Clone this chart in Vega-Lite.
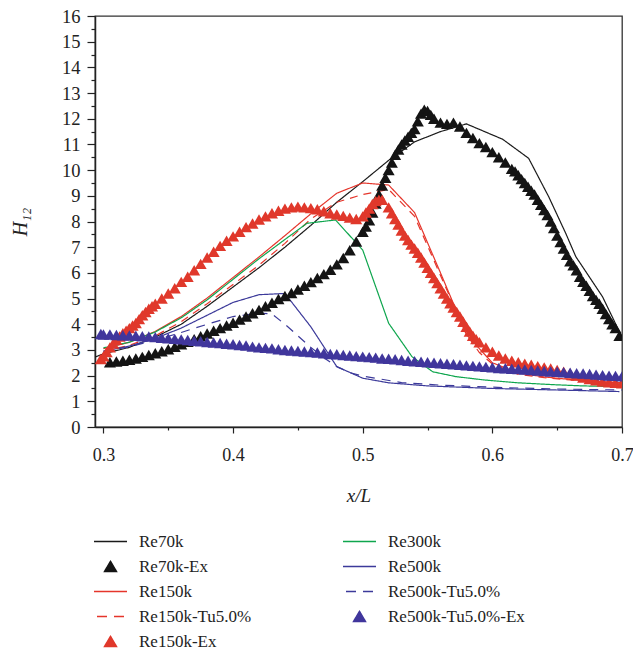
{
  "$schema": "https://vega.github.io/schema/vega-lite/v6.json",
  "width": 527,
  "height": 411,
  "autosize": {"type": "none"},
  "padding": {"left": 95, "top": 16, "right": 11, "bottom": 225},
  "background": "white",
  "config": {
    "view": {"stroke": "#333", "strokeWidth": 1.3},
    "font": "Liberation Serif"
  },
  "datasets": {
    "lines": [
      {"s":"Re70k","x":0.2935,"y":2.72},{"s":"Re70k","x":0.30,"y":2.85},{"s":"Re70k","x":0.32,"y":3.1},{"s":"Re70k","x":0.34,"y":3.5},{"s":"Re70k","x":0.36,"y":4.0},{"s":"Re70k","x":0.38,"y":4.7},{"s":"Re70k","x":0.40,"y":5.45},{"s":"Re70k","x":0.42,"y":6.2},{"s":"Re70k","x":0.44,"y":7.0},{"s":"Re70k","x":0.46,"y":7.85},{"s":"Re70k","x":0.48,"y":8.75},{"s":"Re70k","x":0.50,"y":9.55},{"s":"Re70k","x":0.52,"y":10.38},{"s":"Re70k","x":0.54,"y":11.1},{"s":"Re70k","x":0.56,"y":11.5},{"s":"Re70k","x":0.58,"y":11.8},{"s":"Re70k","x":0.608,"y":11.2},{"s":"Re70k","x":0.628,"y":10.46},{"s":"Re70k","x":0.6435,"y":8.96},{"s":"Re70k","x":0.6566,"y":7.54},{"s":"Re70k","x":0.6644,"y":6.63},{"s":"Re70k","x":0.685,"y":5.07},{"s":"Re70k","x":0.70,"y":3.5},
      {"s":"Re150k","x":0.30,"y":3.05},{"s":"Re150k","x":0.32,"y":3.3},{"s":"Re150k","x":0.34,"y":3.72},{"s":"Re150k","x":0.36,"y":4.3},{"s":"Re150k","x":0.38,"y":5.02},{"s":"Re150k","x":0.40,"y":5.82},{"s":"Re150k","x":0.42,"y":6.62},{"s":"Re150k","x":0.44,"y":7.45},{"s":"Re150k","x":0.46,"y":8.3},{"s":"Re150k","x":0.48,"y":9.1},{"s":"Re150k","x":0.50,"y":9.5},{"s":"Re150k","x":0.52,"y":9.42},{"s":"Re150k","x":0.54,"y":8.35},{"s":"Re150k","x":0.56,"y":6.0},{"s":"Re150k","x":0.58,"y":3.6},{"s":"Re150k","x":0.60,"y":2.5},{"s":"Re150k","x":0.62,"y":2.1},{"s":"Re150k","x":0.64,"y":1.95},{"s":"Re150k","x":0.66,"y":1.85},{"s":"Re150k","x":0.68,"y":1.78},{"s":"Re150k","x":0.70,"y":1.72},
      {"s":"Re150k-Tu5.0%","x":0.30,"y":2.95},{"s":"Re150k-Tu5.0%","x":0.32,"y":3.18},{"s":"Re150k-Tu5.0%","x":0.34,"y":3.55},{"s":"Re150k-Tu5.0%","x":0.36,"y":4.1},{"s":"Re150k-Tu5.0%","x":0.38,"y":4.8},{"s":"Re150k-Tu5.0%","x":0.40,"y":5.55},{"s":"Re150k-Tu5.0%","x":0.42,"y":6.3},{"s":"Re150k-Tu5.0%","x":0.44,"y":7.15},{"s":"Re150k-Tu5.0%","x":0.46,"y":8.1},{"s":"Re150k-Tu5.0%","x":0.48,"y":8.75},{"s":"Re150k-Tu5.0%","x":0.50,"y":9.05},{"s":"Re150k-Tu5.0%","x":0.52,"y":9.25},{"s":"Re150k-Tu5.0%","x":0.54,"y":8.2},{"s":"Re150k-Tu5.0%","x":0.56,"y":5.9},{"s":"Re150k-Tu5.0%","x":0.58,"y":3.6},{"s":"Re150k-Tu5.0%","x":0.59,"y":2.9},{"s":"Re150k-Tu5.0%","x":0.60,"y":2.45},{"s":"Re150k-Tu5.0%","x":0.62,"y":2.05},{"s":"Re150k-Tu5.0%","x":0.64,"y":1.92},{"s":"Re150k-Tu5.0%","x":0.66,"y":1.83},{"s":"Re150k-Tu5.0%","x":0.68,"y":1.77},{"s":"Re150k-Tu5.0%","x":0.70,"y":1.72},
      {"s":"Re300k","x":0.30,"y":3.08},{"s":"Re300k","x":0.32,"y":3.3},{"s":"Re300k","x":0.34,"y":3.7},{"s":"Re300k","x":0.36,"y":4.25},{"s":"Re300k","x":0.38,"y":4.95},{"s":"Re300k","x":0.40,"y":5.75},{"s":"Re300k","x":0.42,"y":6.55},{"s":"Re300k","x":0.44,"y":7.3},{"s":"Re300k","x":0.457,"y":7.93},{"s":"Re300k","x":0.479,"y":8.06},{"s":"Re300k","x":0.50,"y":6.89},{"s":"Re300k","x":0.52,"y":4.04},{"s":"Re300k","x":0.538,"y":2.74},{"s":"Re300k","x":0.554,"y":2.15},{"s":"Re300k","x":0.572,"y":1.96},{"s":"Re300k","x":0.594,"y":1.83},{"s":"Re300k","x":0.62,"y":1.72},{"s":"Re300k","x":0.646,"y":1.65},{"s":"Re300k","x":0.67,"y":1.6},{"s":"Re300k","x":0.698,"y":1.57},
      {"s":"Re500k","x":0.30,"y":2.95},{"s":"Re500k","x":0.32,"y":3.15},{"s":"Re500k","x":0.34,"y":3.45},{"s":"Re500k","x":0.36,"y":3.85},{"s":"Re500k","x":0.38,"y":4.35},{"s":"Re500k","x":0.40,"y":4.85},{"s":"Re500k","x":0.42,"y":5.15},{"s":"Re500k","x":0.44,"y":5.2},{"s":"Re500k","x":0.46,"y":3.9},{"s":"Re500k","x":0.48,"y":2.35},{"s":"Re500k","x":0.50,"y":1.9},{"s":"Re500k","x":0.52,"y":1.72},{"s":"Re500k","x":0.55,"y":1.6},{"s":"Re500k","x":0.60,"y":1.5},{"s":"Re500k","x":0.65,"y":1.44},{"s":"Re500k","x":0.698,"y":1.38},
      {"s":"Re500k-Tu5.0%","x":0.30,"y":2.95},{"s":"Re500k-Tu5.0%","x":0.32,"y":3.12},{"s":"Re500k-Tu5.0%","x":0.34,"y":3.38},{"s":"Re500k-Tu5.0%","x":0.36,"y":3.68},{"s":"Re500k-Tu5.0%","x":0.38,"y":4.0},{"s":"Re500k-Tu5.0%","x":0.40,"y":4.3},{"s":"Re500k-Tu5.0%","x":0.42,"y":4.43},{"s":"Re500k-Tu5.0%","x":0.43,"y":4.4},{"s":"Re500k-Tu5.0%","x":0.44,"y":4.0},{"s":"Re500k-Tu5.0%","x":0.45,"y":3.55},{"s":"Re500k-Tu5.0%","x":0.46,"y":3.1},{"s":"Re500k-Tu5.0%","x":0.47,"y":2.7},{"s":"Re500k-Tu5.0%","x":0.48,"y":2.35},{"s":"Re500k-Tu5.0%","x":0.49,"y":2.12},{"s":"Re500k-Tu5.0%","x":0.50,"y":1.98},{"s":"Re500k-Tu5.0%","x":0.53,"y":1.73},{"s":"Re500k-Tu5.0%","x":0.56,"y":1.63},{"s":"Re500k-Tu5.0%","x":0.61,"y":1.53},{"s":"Re500k-Tu5.0%","x":0.65,"y":1.48},{"s":"Re500k-Tu5.0%","x":0.70,"y":1.44}
    ],
    "ex": [
      {"s":"Re70k-Ex","x":0.305,"y":2.52},{"s":"Re70k-Ex","x":0.31,"y":2.55},{"s":"Re70k-Ex","x":0.315,"y":2.58},{"s":"Re70k-Ex","x":0.32,"y":2.62},{"s":"Re70k-Ex","x":0.325,"y":2.67},{"s":"Re70k-Ex","x":0.33,"y":2.73},{"s":"Re70k-Ex","x":0.335,"y":2.8},{"s":"Re70k-Ex","x":0.34,"y":2.87},{"s":"Re70k-Ex","x":0.345,"y":2.95},{"s":"Re70k-Ex","x":0.35,"y":3.03},
      {"s":"Re70k-Ex","x":0.355,"y":3.12},{"s":"Re70k-Ex","x":0.36,"y":3.22},{"s":"Re70k-Ex","x":0.365,"y":3.32},{"s":"Re70k-Ex","x":0.37,"y":3.42},{"s":"Re70k-Ex","x":0.375,"y":3.53},{"s":"Re70k-Ex","x":0.38,"y":3.64},{"s":"Re70k-Ex","x":0.385,"y":3.75},{"s":"Re70k-Ex","x":0.39,"y":3.85},{"s":"Re70k-Ex","x":0.395,"y":3.95},{"s":"Re70k-Ex","x":0.40,"y":4.06},
      {"s":"Re70k-Ex","x":0.405,"y":4.18},{"s":"Re70k-Ex","x":0.41,"y":4.3},{"s":"Re70k-Ex","x":0.415,"y":4.43},{"s":"Re70k-Ex","x":0.42,"y":4.56},{"s":"Re70k-Ex","x":0.425,"y":4.7},{"s":"Re70k-Ex","x":0.43,"y":4.84},{"s":"Re70k-Ex","x":0.435,"y":4.98},{"s":"Re70k-Ex","x":0.44,"y":5.1},{"s":"Re70k-Ex","x":0.445,"y":5.22},{"s":"Re70k-Ex","x":0.45,"y":5.35},
      {"s":"Re70k-Ex","x":0.455,"y":5.5},{"s":"Re70k-Ex","x":0.46,"y":5.64},{"s":"Re70k-Ex","x":0.465,"y":5.8},{"s":"Re70k-Ex","x":0.47,"y":5.95},{"s":"Re70k-Ex","x":0.475,"y":6.12},{"s":"Re70k-Ex","x":0.48,"y":6.33},{"s":"Re70k-Ex","x":0.485,"y":6.58},{"s":"Re70k-Ex","x":0.49,"y":6.88},{"s":"Re70k-Ex","x":0.495,"y":7.22},{"s":"Re70k-Ex","x":0.50,"y":7.6},
      {"s":"Re70k-Ex","x":0.5025,"y":7.8},{"s":"Re70k-Ex","x":0.505,"y":8.05},{"s":"Re70k-Ex","x":0.5075,"y":8.35},{"s":"Re70k-Ex","x":0.51,"y":8.7},{"s":"Re70k-Ex","x":0.5125,"y":9.05},{"s":"Re70k-Ex","x":0.515,"y":9.4},{"s":"Re70k-Ex","x":0.5175,"y":9.7},{"s":"Re70k-Ex","x":0.52,"y":10.0},{"s":"Re70k-Ex","x":0.5225,"y":10.3},{"s":"Re70k-Ex","x":0.525,"y":10.6},{"s":"Re70k-Ex","x":0.5275,"y":10.8},{"s":"Re70k-Ex","x":0.53,"y":11.0},{"s":"Re70k-Ex","x":0.5325,"y":11.15},{"s":"Re70k-Ex","x":0.535,"y":11.3},{"s":"Re70k-Ex","x":0.5375,"y":11.45},{"s":"Re70k-Ex","x":0.54,"y":11.6},{"s":"Re70k-Ex","x":0.5425,"y":11.9},{"s":"Re70k-Ex","x":0.545,"y":12.2},{"s":"Re70k-Ex","x":0.5475,"y":12.35},{"s":"Re70k-Ex","x":0.55,"y":12.3},{"s":"Re70k-Ex","x":0.5525,"y":12.15},
      {"s":"Re70k-Ex","x":0.555,"y":12.0},{"s":"Re70k-Ex","x":0.56,"y":11.85},{"s":"Re70k-Ex","x":0.565,"y":11.8},{"s":"Re70k-Ex","x":0.57,"y":11.85},{"s":"Re70k-Ex","x":0.575,"y":11.7},{"s":"Re70k-Ex","x":0.58,"y":11.45},{"s":"Re70k-Ex","x":0.585,"y":11.25},{"s":"Re70k-Ex","x":0.59,"y":11.05},{"s":"Re70k-Ex","x":0.595,"y":10.9},{"s":"Re70k-Ex","x":0.60,"y":10.7},
      {"s":"Re70k-Ex","x":0.605,"y":10.5},{"s":"Re70k-Ex","x":0.61,"y":10.3},{"s":"Re70k-Ex","x":0.615,"y":10.05},{"s":"Re70k-Ex","x":0.6175,"y":9.95},{"s":"Re70k-Ex","x":0.62,"y":9.8},{"s":"Re70k-Ex","x":0.6225,"y":9.65},{"s":"Re70k-Ex","x":0.625,"y":9.5},{"s":"Re70k-Ex","x":0.6275,"y":9.35},{"s":"Re70k-Ex","x":0.63,"y":9.2},{"s":"Re70k-Ex","x":0.6325,"y":9.05},{"s":"Re70k-Ex","x":0.635,"y":8.85},{"s":"Re70k-Ex","x":0.6375,"y":8.65},{"s":"Re70k-Ex","x":0.64,"y":8.45},{"s":"Re70k-Ex","x":0.6425,"y":8.25},{"s":"Re70k-Ex","x":0.645,"y":8.0},{"s":"Re70k-Ex","x":0.6475,"y":7.75},{"s":"Re70k-Ex","x":0.65,"y":7.45},
      {"s":"Re70k-Ex","x":0.6525,"y":7.2},{"s":"Re70k-Ex","x":0.655,"y":6.95},{"s":"Re70k-Ex","x":0.6575,"y":6.7},{"s":"Re70k-Ex","x":0.66,"y":6.45},{"s":"Re70k-Ex","x":0.6625,"y":6.3},{"s":"Re70k-Ex","x":0.665,"y":6.1},{"s":"Re70k-Ex","x":0.6675,"y":5.85},{"s":"Re70k-Ex","x":0.67,"y":5.65},{"s":"Re70k-Ex","x":0.6725,"y":5.5},{"s":"Re70k-Ex","x":0.675,"y":5.3},{"s":"Re70k-Ex","x":0.6775,"y":5.1},{"s":"Re70k-Ex","x":0.68,"y":4.95},{"s":"Re70k-Ex","x":0.6825,"y":4.8},{"s":"Re70k-Ex","x":0.685,"y":4.6},{"s":"Re70k-Ex","x":0.6875,"y":4.4},{"s":"Re70k-Ex","x":0.69,"y":4.2},{"s":"Re70k-Ex","x":0.6925,"y":4.0},{"s":"Re70k-Ex","x":0.695,"y":3.85},{"s":"Re70k-Ex","x":0.698,"y":3.55},
      {"s":"Re150k-Ex","x":0.298,"y":2.65},{"s":"Re150k-Ex","x":0.30,"y":2.75},{"s":"Re150k-Ex","x":0.3025,"y":2.92},{"s":"Re150k-Ex","x":0.305,"y":3.1},{"s":"Re150k-Ex","x":0.3075,"y":3.25},{"s":"Re150k-Ex","x":0.31,"y":3.4},{"s":"Re150k-Ex","x":0.3125,"y":3.52},{"s":"Re150k-Ex","x":0.315,"y":3.65},{"s":"Re150k-Ex","x":0.3175,"y":3.75},{"s":"Re150k-Ex","x":0.32,"y":3.85},{"s":"Re150k-Ex","x":0.3225,"y":3.95},{"s":"Re150k-Ex","x":0.325,"y":4.05},{"s":"Re150k-Ex","x":0.3275,"y":4.2},{"s":"Re150k-Ex","x":0.33,"y":4.35},{"s":"Re150k-Ex","x":0.3325,"y":4.48},{"s":"Re150k-Ex","x":0.335,"y":4.6},{"s":"Re150k-Ex","x":0.3375,"y":4.7},{"s":"Re150k-Ex","x":0.34,"y":4.8},
      {"s":"Re150k-Ex","x":0.345,"y":5.0},{"s":"Re150k-Ex","x":0.35,"y":5.2},{"s":"Re150k-Ex","x":0.355,"y":5.4},{"s":"Re150k-Ex","x":0.36,"y":5.65},{"s":"Re150k-Ex","x":0.365,"y":5.85},{"s":"Re150k-Ex","x":0.37,"y":6.1},{"s":"Re150k-Ex","x":0.375,"y":6.35},{"s":"Re150k-Ex","x":0.38,"y":6.6},{"s":"Re150k-Ex","x":0.385,"y":6.82},{"s":"Re150k-Ex","x":0.39,"y":7.05},
      {"s":"Re150k-Ex","x":0.395,"y":7.25},{"s":"Re150k-Ex","x":0.40,"y":7.42},{"s":"Re150k-Ex","x":0.405,"y":7.6},{"s":"Re150k-Ex","x":0.41,"y":7.78},{"s":"Re150k-Ex","x":0.415,"y":7.92},{"s":"Re150k-Ex","x":0.42,"y":8.08},{"s":"Re150k-Ex","x":0.425,"y":8.2},{"s":"Re150k-Ex","x":0.43,"y":8.32},{"s":"Re150k-Ex","x":0.435,"y":8.42},{"s":"Re150k-Ex","x":0.44,"y":8.5},
      {"s":"Re150k-Ex","x":0.445,"y":8.55},{"s":"Re150k-Ex","x":0.45,"y":8.58},{"s":"Re150k-Ex","x":0.455,"y":8.55},{"s":"Re150k-Ex","x":0.46,"y":8.52},{"s":"Re150k-Ex","x":0.465,"y":8.48},{"s":"Re150k-Ex","x":0.47,"y":8.4},{"s":"Re150k-Ex","x":0.475,"y":8.32},{"s":"Re150k-Ex","x":0.48,"y":8.27},{"s":"Re150k-Ex","x":0.485,"y":8.22},{"s":"Re150k-Ex","x":0.49,"y":8.15},
      {"s":"Re150k-Ex","x":0.495,"y":8.1},{"s":"Re150k-Ex","x":0.50,"y":8.2},{"s":"Re150k-Ex","x":0.5025,"y":8.35},{"s":"Re150k-Ex","x":0.505,"y":8.5},{"s":"Re150k-Ex","x":0.5075,"y":8.68},{"s":"Re150k-Ex","x":0.51,"y":8.8},{"s":"Re150k-Ex","x":0.5125,"y":8.85},{"s":"Re150k-Ex","x":0.515,"y":8.85},{"s":"Re150k-Ex","x":0.52,"y":8.55},{"s":"Re150k-Ex","x":0.5225,"y":8.32},{"s":"Re150k-Ex","x":0.525,"y":8.1},{"s":"Re150k-Ex","x":0.5275,"y":7.88},{"s":"Re150k-Ex","x":0.53,"y":7.65},{"s":"Re150k-Ex","x":0.5325,"y":7.45},{"s":"Re150k-Ex","x":0.535,"y":7.28},{"s":"Re150k-Ex","x":0.5375,"y":7.1},{"s":"Re150k-Ex","x":0.54,"y":6.95},
      {"s":"Re150k-Ex","x":0.5425,"y":6.78},{"s":"Re150k-Ex","x":0.545,"y":6.6},{"s":"Re150k-Ex","x":0.5475,"y":6.4},{"s":"Re150k-Ex","x":0.55,"y":6.2},{"s":"Re150k-Ex","x":0.5525,"y":6.0},{"s":"Re150k-Ex","x":0.555,"y":5.8},{"s":"Re150k-Ex","x":0.5575,"y":5.6},{"s":"Re150k-Ex","x":0.56,"y":5.4},{"s":"Re150k-Ex","x":0.5625,"y":5.2},{"s":"Re150k-Ex","x":0.565,"y":5.0},{"s":"Re150k-Ex","x":0.5675,"y":4.82},{"s":"Re150k-Ex","x":0.57,"y":4.65},{"s":"Re150k-Ex","x":0.5725,"y":4.48},{"s":"Re150k-Ex","x":0.575,"y":4.3},{"s":"Re150k-Ex","x":0.5775,"y":4.1},{"s":"Re150k-Ex","x":0.58,"y":3.9},{"s":"Re150k-Ex","x":0.5825,"y":3.72},{"s":"Re150k-Ex","x":0.585,"y":3.55},{"s":"Re150k-Ex","x":0.5875,"y":3.42},{"s":"Re150k-Ex","x":0.59,"y":3.3},
      {"s":"Re150k-Ex","x":0.595,"y":3.1},{"s":"Re150k-Ex","x":0.60,"y":2.93},{"s":"Re150k-Ex","x":0.605,"y":2.78},{"s":"Re150k-Ex","x":0.61,"y":2.67},{"s":"Re150k-Ex","x":0.615,"y":2.58},{"s":"Re150k-Ex","x":0.62,"y":2.52},{"s":"Re150k-Ex","x":0.625,"y":2.46},{"s":"Re150k-Ex","x":0.63,"y":2.42},{"s":"Re150k-Ex","x":0.635,"y":2.37},{"s":"Re150k-Ex","x":0.64,"y":2.32},
      {"s":"Re150k-Ex","x":0.645,"y":2.28},{"s":"Re150k-Ex","x":0.65,"y":2.22},{"s":"Re150k-Ex","x":0.655,"y":2.15},{"s":"Re150k-Ex","x":0.66,"y":2.08},{"s":"Re150k-Ex","x":0.665,"y":2.0},{"s":"Re150k-Ex","x":0.67,"y":1.93},{"s":"Re150k-Ex","x":0.675,"y":1.87},{"s":"Re150k-Ex","x":0.68,"y":1.82},{"s":"Re150k-Ex","x":0.685,"y":1.77},{"s":"Re150k-Ex","x":0.69,"y":1.74},
      {"s":"Re150k-Ex","x":0.695,"y":1.72},{"s":"Re150k-Ex","x":0.70,"y":1.7},
      {"s":"Re500k-Tu5.0%-Ex","x":0.298,"y":3.62},{"s":"Re500k-Tu5.0%-Ex","x":0.30,"y":3.6},{"s":"Re500k-Tu5.0%-Ex","x":0.305,"y":3.6},{"s":"Re500k-Tu5.0%-Ex","x":0.31,"y":3.58},{"s":"Re500k-Tu5.0%-Ex","x":0.315,"y":3.57},{"s":"Re500k-Tu5.0%-Ex","x":0.32,"y":3.56},{"s":"Re500k-Tu5.0%-Ex","x":0.325,"y":3.55},{"s":"Re500k-Tu5.0%-Ex","x":0.33,"y":3.53},{"s":"Re500k-Tu5.0%-Ex","x":0.335,"y":3.52},{"s":"Re500k-Tu5.0%-Ex","x":0.34,"y":3.5},
      {"s":"Re500k-Tu5.0%-Ex","x":0.345,"y":3.47},{"s":"Re500k-Tu5.0%-Ex","x":0.35,"y":3.45},{"s":"Re500k-Tu5.0%-Ex","x":0.355,"y":3.43},{"s":"Re500k-Tu5.0%-Ex","x":0.36,"y":3.41},{"s":"Re500k-Tu5.0%-Ex","x":0.365,"y":3.39},{"s":"Re500k-Tu5.0%-Ex","x":0.37,"y":3.36},{"s":"Re500k-Tu5.0%-Ex","x":0.375,"y":3.34},{"s":"Re500k-Tu5.0%-Ex","x":0.38,"y":3.31},{"s":"Re500k-Tu5.0%-Ex","x":0.385,"y":3.29},{"s":"Re500k-Tu5.0%-Ex","x":0.39,"y":3.27},
      {"s":"Re500k-Tu5.0%-Ex","x":0.395,"y":3.24},{"s":"Re500k-Tu5.0%-Ex","x":0.40,"y":3.22},{"s":"Re500k-Tu5.0%-Ex","x":0.405,"y":3.19},{"s":"Re500k-Tu5.0%-Ex","x":0.41,"y":3.17},{"s":"Re500k-Tu5.0%-Ex","x":0.415,"y":3.13},{"s":"Re500k-Tu5.0%-Ex","x":0.42,"y":3.1},{"s":"Re500k-Tu5.0%-Ex","x":0.425,"y":3.08},{"s":"Re500k-Tu5.0%-Ex","x":0.43,"y":3.06},{"s":"Re500k-Tu5.0%-Ex","x":0.435,"y":3.03},{"s":"Re500k-Tu5.0%-Ex","x":0.44,"y":3.0},
      {"s":"Re500k-Tu5.0%-Ex","x":0.445,"y":2.98},{"s":"Re500k-Tu5.0%-Ex","x":0.45,"y":2.96},{"s":"Re500k-Tu5.0%-Ex","x":0.455,"y":2.94},{"s":"Re500k-Tu5.0%-Ex","x":0.46,"y":2.92},{"s":"Re500k-Tu5.0%-Ex","x":0.465,"y":2.9},{"s":"Re500k-Tu5.0%-Ex","x":0.47,"y":2.87},{"s":"Re500k-Tu5.0%-Ex","x":0.475,"y":2.84},{"s":"Re500k-Tu5.0%-Ex","x":0.48,"y":2.83},{"s":"Re500k-Tu5.0%-Ex","x":0.485,"y":2.8},{"s":"Re500k-Tu5.0%-Ex","x":0.49,"y":2.78},
      {"s":"Re500k-Tu5.0%-Ex","x":0.495,"y":2.76},{"s":"Re500k-Tu5.0%-Ex","x":0.50,"y":2.74},{"s":"Re500k-Tu5.0%-Ex","x":0.505,"y":2.72},{"s":"Re500k-Tu5.0%-Ex","x":0.51,"y":2.7},{"s":"Re500k-Tu5.0%-Ex","x":0.515,"y":2.67},{"s":"Re500k-Tu5.0%-Ex","x":0.52,"y":2.66},{"s":"Re500k-Tu5.0%-Ex","x":0.525,"y":2.64},{"s":"Re500k-Tu5.0%-Ex","x":0.53,"y":2.61},{"s":"Re500k-Tu5.0%-Ex","x":0.535,"y":2.58},{"s":"Re500k-Tu5.0%-Ex","x":0.54,"y":2.56},
      {"s":"Re500k-Tu5.0%-Ex","x":0.545,"y":2.54},{"s":"Re500k-Tu5.0%-Ex","x":0.55,"y":2.52},{"s":"Re500k-Tu5.0%-Ex","x":0.555,"y":2.5},{"s":"Re500k-Tu5.0%-Ex","x":0.56,"y":2.48},{"s":"Re500k-Tu5.0%-Ex","x":0.565,"y":2.46},{"s":"Re500k-Tu5.0%-Ex","x":0.57,"y":2.44},{"s":"Re500k-Tu5.0%-Ex","x":0.575,"y":2.42},{"s":"Re500k-Tu5.0%-Ex","x":0.58,"y":2.4},{"s":"Re500k-Tu5.0%-Ex","x":0.585,"y":2.38},{"s":"Re500k-Tu5.0%-Ex","x":0.59,"y":2.36},
      {"s":"Re500k-Tu5.0%-Ex","x":0.595,"y":2.34},{"s":"Re500k-Tu5.0%-Ex","x":0.60,"y":2.32},{"s":"Re500k-Tu5.0%-Ex","x":0.605,"y":2.3},{"s":"Re500k-Tu5.0%-Ex","x":0.61,"y":2.29},{"s":"Re500k-Tu5.0%-Ex","x":0.615,"y":2.27},{"s":"Re500k-Tu5.0%-Ex","x":0.62,"y":2.26},{"s":"Re500k-Tu5.0%-Ex","x":0.625,"y":2.24},{"s":"Re500k-Tu5.0%-Ex","x":0.63,"y":2.22},{"s":"Re500k-Tu5.0%-Ex","x":0.635,"y":2.2},{"s":"Re500k-Tu5.0%-Ex","x":0.64,"y":2.18},
      {"s":"Re500k-Tu5.0%-Ex","x":0.645,"y":2.16},{"s":"Re500k-Tu5.0%-Ex","x":0.65,"y":2.15},{"s":"Re500k-Tu5.0%-Ex","x":0.655,"y":2.13},{"s":"Re500k-Tu5.0%-Ex","x":0.66,"y":2.11},{"s":"Re500k-Tu5.0%-Ex","x":0.665,"y":2.09},{"s":"Re500k-Tu5.0%-Ex","x":0.67,"y":2.08},{"s":"Re500k-Tu5.0%-Ex","x":0.675,"y":2.06},{"s":"Re500k-Tu5.0%-Ex","x":0.68,"y":2.04},{"s":"Re500k-Tu5.0%-Ex","x":0.685,"y":2.02},{"s":"Re500k-Tu5.0%-Ex","x":0.69,"y":2.0},
      {"s":"Re500k-Tu5.0%-Ex","x":0.695,"y":1.99},{"s":"Re500k-Tu5.0%-Ex","x":0.70,"y":1.97}
    ]
  },
  "layer": [
    {
      "encoding": {
        "x": {
          "field": "x", "type": "quantitative",
          "scale": {"domain": [0.2935, 0.7], "nice": false, "zero": false},
          "axis": {
            "orient": "bottom",
            "values": [0.3, 0.4, 0.5, 0.6, 0.7],
            "format": ".1f",
            "tickSize": 6,
            "labelOverlap": false, "labelFlush": false, "grid": false,
            "labelFont": "Liberation Serif", "labelFontSize": 18, "labelColor": "#222", "labelPadding": 13,
            "domainColor": "#222", "domainWidth": 1.5, "tickColor": "#222", "tickWidth": 1.2,
            "title": "x/L", "titleFont": "Liberation Serif", "titleFontSize": 19, "titleFontStyle": "italic", "titleFontWeight": "normal", "titleColor": "#222", "titlePadding": 22
          }
        },
        "y": {
          "field": "y", "type": "quantitative",
          "scale": {"domain": [0, 16], "nice": false, "zero": true},
          "axis": {
            "orient": "left",
            "values": [0,1,2,3,4,5,6,7,8,9,10,11,12,13,14,15,16],
            "format": ".0f",
            "tickSize": 8,
            "labelOverlap": false, "grid": false, "labelFlush": false,
            "labelFont": "Liberation Serif", "labelFontSize": 18.5, "labelColor": "#222", "labelPadding": 7,
            "domainColor": "#222", "domainWidth": 1.5, "tickColor": "#222", "tickWidth": 1.2,
            "title": "H₁₂", "titleFont": "Liberation Serif", "titleFontSize": 20, "titleFontStyle": "italic", "titleFontWeight": "normal", "titleColor": "#222", "titlePadding": 31
          }
        },
        "color": {
          "field": "s", "type": "nominal",
          "scale": {
            "domain": ["Re70k", "Re70k-Ex", "Re150k", "Re150k-Tu5.0%", "Re150k-Ex", "Re300k", "Re500k", "Re500k-Tu5.0%", "Re500k-Tu5.0%-Ex"],
            "range": ["#1a1a1a", "#141414", "#e5352b", "#e5352b", "#e0382b", "#0fa64e", "#3c3a9a", "#3c3a9a", "#40369c"]
          },
          "legend": {
            "orient": "none", "legendX": -2, "legendY": 513,
            "columns": 2, "direction": "vertical",
            "title": null,
            "labelFont": "Liberation Serif", "labelFontSize": 17, "labelColor": "#222",
            "symbolSize": 1089, "symbolStrokeWidth": 1.5,
            "clipHeight": 25,
            "labelOffset": 11, "rowPadding": 0, "columnPadding": 90,
            "labelLimit": 250,
            "encode": {
              "symbols": {
                "update": {
                  "shape": {"signal": "indexof('' + datum.label, '-Ex') >= 0 ? 'M0,-0.31L0.36,0.3L-0.36,0.3Z' : 'stroke'"},
                  "fill": {"signal": "indexof('' + datum.label, '-Ex') >= 0 ? scale('color', datum.value) : 'transparent'"},
                  "strokeDash": {"signal": "indexof('' + datum.label, 'Tu') >= 0 && indexof('' + datum.label, '-Ex') < 0 ? [10,7] : [1,0]"},
                  "strokeDashOffset": {"value": 14}
                }
              }
            }
          }
        }
      },
      "layer": [
        {
          "data": {"name": "lines"},
          "mark": {"type": "line", "strokeWidth": 1.2, "clip": true},
          "encoding": {
            "strokeDash": {
              "field": "s", "type": "nominal",
              "scale": {
                "domain": ["Re70k", "Re150k", "Re150k-Tu5.0%", "Re300k", "Re500k", "Re500k-Tu5.0%"],
                "range": [[1,0],[1,0],[8,6],[1,0],[1,0],[9,7]]
              },
              "legend": null
            }
          }
        },
        {
          "data": {"name": "ex"},
          "mark": {"type": "point", "shape": "triangle-up", "filled": true, "size": 145, "opacity": 1, "clip": true}
        }
      ]
    },
    {
      "data": {"name": "ex"},
      "mark": {"type": "point", "opacity": 0},
      "encoding": {
        "x": {
          "field": "x", "type": "quantitative",
          "axis": {"orient": "bottom", "values": [0.35, 0.45, 0.55, 0.65], "labels": false, "domain": false, "grid": false, "tickSize": 3, "tickColor": "#222", "tickWidth": 1.2, "title": null}
        },
        "y": {
          "field": "y", "type": "quantitative",
          "axis": {"orient": "left", "values": [0.5,1.5,2.5,3.5,4.5,5.5,6.5,7.5,8.5,9.5,10.5,11.5,12.5,13.5,14.5,15.5], "labels": false, "domain": false, "grid": false, "tickSize": 4, "tickColor": "#222", "tickWidth": 1.2, "title": null}
        }
      }
    }
  ],
  "resolve": {"axis": {"x": "independent", "y": "independent"}}
}
